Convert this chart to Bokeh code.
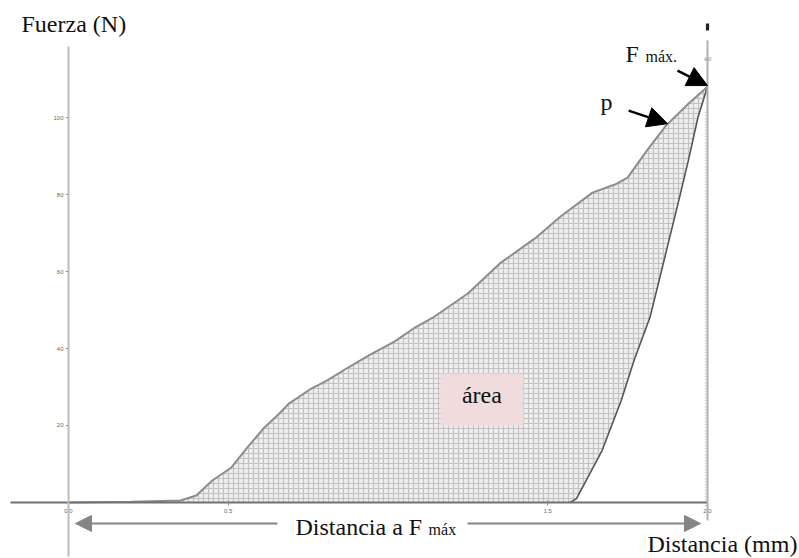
from bokeh.plotting import figure
from bokeh.models import (Range1d, LinearAxis, FixedTicker, Label, Arrow,
                          NormalHead)
from bokeh.embed import file_html
from bokeh.resources import INLINE

# Loading curve: distance (mm) vs force (N) up to the maximum force
load_mm = [0.00, 0.20, 0.35, 0.40, 0.45, 0.51, 0.56, 0.61, 0.66, 0.69, 0.76,
           0.81, 0.87, 0.94, 1.02, 1.08, 1.14, 1.25, 1.35, 1.46, 1.54, 1.64,
           1.71, 1.75, 1.81, 1.87, 1.94, 2.00]
load_N = [0.0, 0.2, 0.5, 1.8, 5.7, 9.1, 14.3, 19.2, 23.1, 25.7, 29.6,
          31.7, 34.8, 38.2, 41.8, 45.2, 48.0, 54.3, 62.1, 68.6, 74.3, 80.5,
          82.6, 84.4, 91.4, 97.9, 103.6, 108.0]

# Unloading curve: from the maximum force back to zero
unload_mm = [2.00, 1.97, 1.94, 1.91, 1.87, 1.82, 1.77, 1.73, 1.67, 1.62, 1.59, 1.57]
unload_N = [108.0, 100.0, 88.8, 78.4, 64.9, 48.1, 36.9, 26.5, 13.5, 5.7, 1.0, 0.0]

# Axis ticks
y_ticks = [20, 40, 60, 80, 100]
x_ticks = [0.0, 0.5, 1.5, 2.0]
x_tick_labels = {0.0: "0.0", 0.5: "0.5", 1.5: "1.5", 2.0: "2.0"}

SERIF = "Liberation Serif"
INK = "#111111"
LIFT = 2.3  # raises text baselines to sit where intended

p = figure(width=799, height=558, output_backend="svg", toolbar_location=None,
           x_range=Range1d(-0.2128, 2.2879), y_range=Range1d(-14.55, 130.4),
           x_axis_type=None, y_axis_type=None, min_border=0,
           outline_line_color=None)
p.grid.visible = False
p.background_fill_color = "white"
p.border_fill_color = "white"


def text(x, y, s, size="24px", **kw):
    p.add_layout(Label(x=x, y=y + LIFT, text=s, text_font=SERIF,
                       text_font_size=size, text_baseline="alphabetic",
                       text_color=kw.pop("color", INK), **kw))


# Force axis at distance = 0
yax = LinearAxis(fixed_location=0.0, bounds=(-14.0, 118.4),
                 ticker=FixedTicker(ticks=y_ticks))
yax.axis_line_color = "#bcbcbc"
yax.axis_line_width = 2
yax.major_tick_line_color = "#9a9a9a"
yax.major_tick_out = 3
yax.major_tick_in = 0
yax.minor_tick_line_color = None
yax.major_label_text_font_size = "6px"
yax.major_label_text_color = "#6a6a6a"
yax.major_label_standoff = 2
p.add_layout(yax, "left")

# Distance axis at force = 0
xax = LinearAxis(fixed_location=0.0, bounds=(-0.18, 2.0),
                 ticker=FixedTicker(ticks=x_ticks),
                 major_label_overrides=x_tick_labels)
xax.axis_line_color = "#707070"
xax.axis_line_width = 2
xax.major_tick_line_color = "#8a8a8a"
xax.major_tick_out = 3
xax.major_tick_in = 2
xax.minor_tick_line_color = None
xax.major_label_text_font_size = "6px"
xax.major_label_text_color = "#6a6a6a"
xax.major_label_standoff = 4
p.add_layout(xax, "below")

# Vertical reference axis at the distance of maximum force
rax = LinearAxis(fixed_location=2.0, bounds=(-4.7, 120.0),
                 ticker=FixedTicker(ticks=[]))
rax.axis_line_color = "#b0b0b0"
rax.axis_line_width = 2
rax.minor_tick_line_color = None
rax.major_label_text_font_size = "0px"
p.add_layout(rax, "right")

# dotted minor marks along the right axis
p.segment(x0=[1.994], y0=[-1.0], x1=[1.994], y1=[102.0],
          line_color="#c8c8c8", line_width=2, line_dash="1 2")

# Hatched area enclosed by the loading and unloading curves
area_x = load_mm + unload_mm[1:]
area_y = load_N + unload_N[1:]
p.patch(area_x, area_y, fill_color="#eeeeee", line_color=None,
        hatch_pattern="cross", hatch_color="#c2c2c2", hatch_scale=5,
        hatch_weight=1.2)

p.line(load_mm, load_N, line_color="#8c8c8c", line_width=2)
p.line(unload_mm, unload_N, line_color="#555555", line_width=1.6)

# small marker atop the right axis
p.quad(left=[1.995], right=[2.005], bottom=[122.6], top=[124.4],
       fill_color="#222222", line_color=None)

# tiny tick label on the right axis
text(2.0, 113.0, "4.0", size="6px", color="#888888", text_align="center")

# "área" box
p.quad(left=[1.164], right=[1.424], bottom=[20.0], top=[33.5],
       fill_color="#f0dcdc", line_color=None)
text(1.294, 25.5, "área", text_align="center")

# Axis titles
text(-0.147, 122.1, "Fuerza (N)")
text(1.812, -13.0, "Distancia (mm)")

# Distance-to-maximum-force arrow and its caption
gray = "#858585"
for xs, xe in ((0.654, 0.022), (1.249, 1.978)):
    p.add_layout(Arrow(x_start=xs, y_start=-5.45, x_end=xe, y_end=-5.45,
                       line_color=gray, line_width=2,
                       end=NormalHead(size=16, fill_color=gray, line_color=gray)))
text(0.7105, -8.6, "Distancia a F")
text(1.127, -9.4, "máx", size="16px")

# Maximum force and slope annotations
text(1.743, 114.3, "F")
text(1.806, 113.6, "máx.", size="16px")
p.add_layout(Arrow(x_start=1.906, y_start=112.2, x_end=2.0, y_end=108.3,
                   line_color="black", line_width=2.5,
                   end=NormalHead(size=20, fill_color="black", line_color="black")))
text(1.665, 101.8, "p")
p.add_layout(Arrow(x_start=1.753, y_start=101.8, x_end=1.875, y_end=98.4,
                   line_color="black", line_width=2.5,
                   end=NormalHead(size=20, fill_color="black", line_color="black")))

open("out.html", "w").write(file_html(p, INLINE))
